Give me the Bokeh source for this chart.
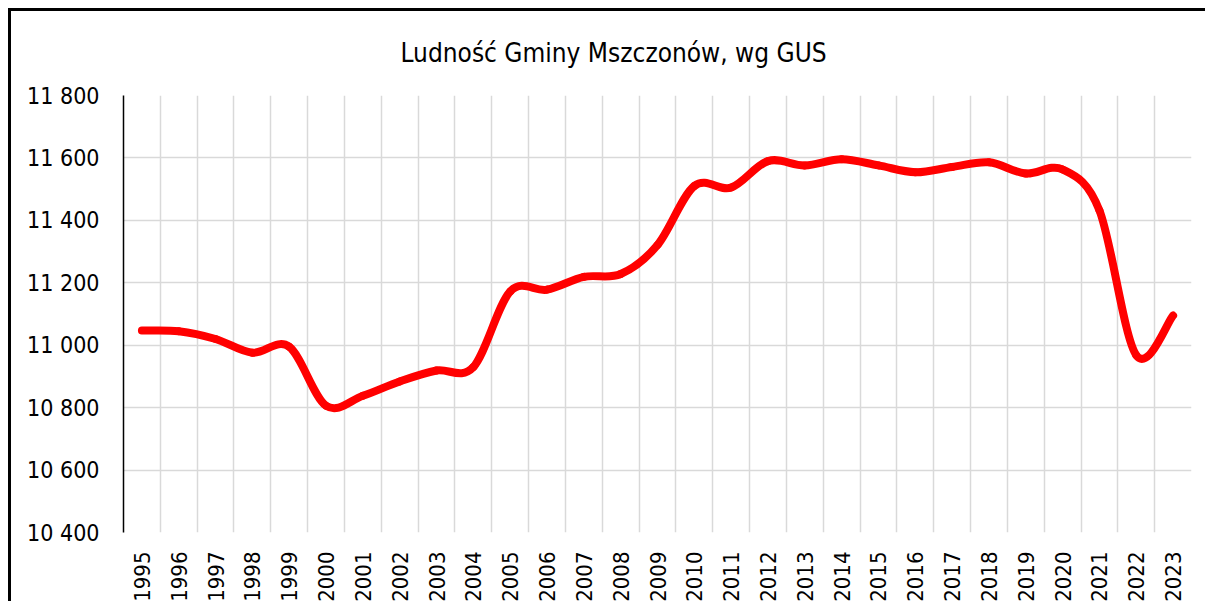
import numpy as np
from bokeh.plotting import figure
from bokeh.models import ColumnDataSource, FixedTicker, Range1d, Title
from bokeh.embed import file_html
from bokeh.resources import INLINE

# ---- data ----
years = ["1995", "1996", "1997", "1998", "1999", "2000", "2001", "2002", "2003", "2004",
         "2005", "2006", "2007", "2008", "2009", "2010", "2011", "2012", "2013", "2014",
         "2015", "2016", "2017", "2018", "2019", "2020", "2021", "2022", "2023"]
population = [11047, 11045, 11020, 10976, 10995, 10806, 10838, 10884, 10919, 10930,
              11172, 11178, 11219, 11228, 11321, 11510, 11505, 11590, 11576, 11596,
              11576, 11554, 11571, 11586, 11550, 11563, 11432, 10968, 11095]
y_ticks = [10400, 10600, 10800, 11000, 11200, 11400, 11600, 11800]
y_tick_labels = ["10 400", "10 600", "10 800", "11 000", "11 200", "11 400", "11 600", "11 800"]
title_text = "Ludność Gminy Mszczonów, wg GUS"

FONT = "DejaVu Sans Condensed"

# ---- smoothed line (Excel-like Catmull-Rom bezier segments through the data points) ----
n = len(population)
xs = np.arange(n, dtype=float)
ys = np.array(population, dtype=float)
xp = np.concatenate([[xs[0]], xs, [xs[-1]]])
yp = np.concatenate([[ys[0]], ys, [ys[-1]]])
seg = dict(x0=[], y0=[], x1=[], y1=[], cx0=[], cy0=[], cx1=[], cy1=[])
for i in range(n - 1):
    seg["x0"].append(xs[i]); seg["y0"].append(ys[i])
    seg["x1"].append(xs[i + 1]); seg["y1"].append(ys[i + 1])
    seg["cx0"].append(xs[i] + (xs[i + 1] - xp[i]) / 6.0)
    seg["cy0"].append(ys[i] + (ys[i + 1] - yp[i]) / 6.0)
    seg["cx1"].append(xs[i + 1] - (xp[i + 3] - xs[i]) / 6.0)
    seg["cy1"].append(ys[i + 1] - (yp[i + 3] - ys[i]) / 6.0)
src = ColumnDataSource(seg)

p = figure(width=1197, height=593, output_backend="svg", toolbar_location=None,
           x_range=Range1d(-0.5, n - 0.5), y_range=Range1d(y_ticks[0], y_ticks[-1]),
           min_border_left=112, min_border_right=17, min_border_top=84, min_border_bottom=71)
p.styles = {"margin-left": "8px", "margin-top": "8px",
            "border-top": "3px solid black", "border-left": "3px solid black"}
p.outline_line_color = None
p.background_fill_color = "white"
p.border_fill_color = "white"

p.bezier(x0="x0", y0="y0", x1="x1", y1="y1", cx0="cx0", cy0="cy0", cx1="cx1", cy1="cy1",
         source=src, line_color="#FF0000", line_width=8, line_cap="round")

# grids
p.xgrid.ticker = FixedTicker(ticks=[i + 0.5 for i in range(n)])
p.ygrid.ticker = FixedTicker(ticks=y_ticks)
for g in (p.xgrid, p.ygrid):
    g.grid_line_color = "#d9d9d9"
    g.grid_line_width = 1.5

# x axis
p.xaxis.ticker = FixedTicker(ticks=list(range(n)))
p.xaxis.major_label_overrides = {i: years[i] for i in range(n)}
p.xaxis.major_label_orientation = np.pi / 2
p.xaxis.axis_line_color = None
p.xaxis.major_tick_line_color = None
p.xaxis.minor_tick_line_color = None
p.xaxis.major_tick_out = 0
p.xaxis.major_label_standoff = 19
p.xaxis.major_label_text_font = FONT
p.xaxis.major_label_text_font_size = "22px"
p.xaxis.major_label_text_color = "black"

# y axis
p.yaxis.ticker = FixedTicker(ticks=y_ticks)
p.yaxis.major_label_overrides = {t: l for t, l in zip(y_ticks, y_tick_labels)}
p.yaxis.axis_line_color = "black"
p.yaxis.axis_line_width = 1.5
p.yaxis.major_tick_line_color = None
p.yaxis.minor_tick_line_color = None
p.yaxis.major_tick_out = 0
p.yaxis.major_label_standoff = 24
p.yaxis.major_label_text_font = FONT
p.yaxis.major_label_text_font_size = "23px"
p.yaxis.major_label_text_color = "black"

# title
p.add_layout(Title(text=title_text, align="left", offset=277, standoff=52,
                   vertical_align="top",
                   text_font=FONT, text_font_size="26px", text_font_style="normal",
                   text_color="black"), "above")

open("out.html", "w").write(file_html(p, INLINE))
